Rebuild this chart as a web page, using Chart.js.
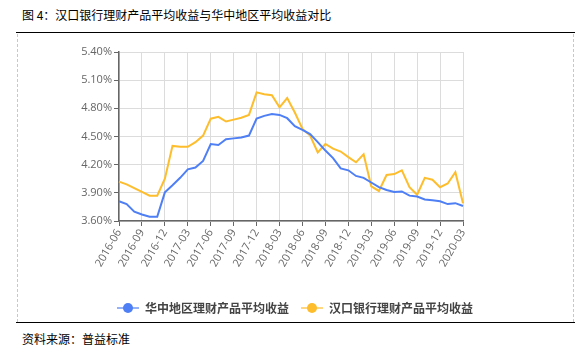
<!DOCTYPE html>
<html>
<head>
<meta charset="utf-8">
<script src="https://cdn.jsdelivr.net/npm/chart.js@4.4.1/dist/chart.umd.min.js"></script>
<style>
  body { margin: 0; background: #fff; width: 586px; height: 352px; position: relative; overflow: hidden;
         font-family: "Noto Sans CJK SC", sans-serif; }
  #title { position: absolute; left: 22px; top: 6px; font-size: 12px; color: #000; }
  #topline { position: absolute; left: 16px; top: 32px; width: 559px; height: 0; border-top: 1.5px solid #000; }
  #leftdash { position: absolute; left: 17px; top: 34px; height: 288px; border-left: 1px dashed #c8c8c8; }
  #rightdash { position: absolute; left: 573px; top: 34px; height: 288px; border-left: 1px dashed #c8c8c8; }
  #bottomline { position: absolute; left: 16px; top: 322px; width: 559px; height: 0; border-top: 1.5px solid #000; }
  #source { position: absolute; left: 22px; top: 330px; font-size: 12px; color: #000; }
  #wrap { position: absolute; left: 18px; top: 35px; width: 554px; height: 292px; }
</style>
</head>
<body>
<div id="title">图 4：汉口银行理财产品平均收益与华中地区平均收益对比</div>
<div id="topline"></div>
<div id="leftdash"></div>
<div id="rightdash"></div>
<div id="wrap"><canvas id="yieldChart"></canvas></div>
<div id="bottomline"></div>
<div id="source">资料来源：普益标准</div>
<script>
// 月份
const months = [
  '2016-06', '2016-07', '2016-08', '2016-09', '2016-10', '2016-11', '2016-12',
  '2017-01', '2017-02', '2017-03', '2017-04', '2017-05', '2017-06', '2017-07', '2017-08', '2017-09', '2017-10', '2017-11', '2017-12',
  '2018-01', '2018-02', '2018-03', '2018-04', '2018-05', '2018-06', '2018-07', '2018-08', '2018-09', '2018-10', '2018-11', '2018-12',
  '2019-01', '2019-02', '2019-03', '2019-04', '2019-05', '2019-06', '2019-07', '2019-08', '2019-09', '2019-10', '2019-11', '2019-12',
  '2020-01', '2020-02', '2020-03'
];

// 华中地区理财产品平均收益 (%)
const centralChina = [
  3.81, 3.78, 3.70, 3.67, 3.645, 3.645, 3.905,
  3.98, 4.06, 4.15, 4.17, 4.24, 4.42, 4.41, 4.47, 4.48, 4.49, 4.51, 4.69,
  4.72, 4.74, 4.73, 4.695, 4.61, 4.57, 4.525, 4.44, 4.35, 4.27, 4.16, 4.14,
  4.08, 4.06, 4.01, 3.96, 3.93, 3.91, 3.915, 3.87, 3.86, 3.83, 3.82, 3.81,
  3.78, 3.79, 3.76
];

// 汉口银行理财产品平均收益 (%)
const hankouBank = [
  4.02, 3.99, 3.95, 3.91, 3.87, 3.87, 4.05,
  4.40, 4.39, 4.39, 4.44, 4.51, 4.69, 4.71, 4.66, 4.68, 4.70, 4.73, 4.97,
  4.95, 4.94, 4.81, 4.91, 4.755, 4.58, 4.51, 4.33, 4.42, 4.37, 4.34, 4.28,
  4.225, 4.31, 3.97, 3.92, 4.09, 4.10, 4.14, 3.96, 3.88, 4.06, 4.04, 3.96,
  4.00, 4.12, 3.79
];

const yTicks = [3.6, 3.9, 4.2, 4.5, 4.8, 5.1, 5.4];

const BLUE = '#4e7ff5';
const YELLOW = '#fdbd2c';

// 图例标记：线 + 圆点
function legendMarker(color) {
  const c = document.createElement('canvas');
  c.width = 22; c.height = 12;
  const g = c.getContext('2d');
  g.strokeStyle = color;
  g.globalAlpha = 0.6;
  g.lineWidth = 2;
  g.beginPath(); g.moveTo(0, 6); g.lineTo(22, 6); g.stroke();
  g.globalAlpha = 1;
  g.fillStyle = color;
  g.beginPath(); g.arc(11, 6, 5, 0, Math.PI * 2); g.fill();
  return c;
}

const ctx = document.getElementById('yieldChart').getContext('2d');
new Chart(ctx, {
  type: 'line',
  data: {
    labels: months,
    datasets: [{
      label: '华中地区理财产品平均收益',
      data: centralChina,
      borderColor: BLUE,
      backgroundColor: BLUE,
      borderWidth: 2,
      pointRadius: 0,
      tension: 0,
      pointStyle: legendMarker(BLUE)
    }, {
      label: '汉口银行理财产品平均收益',
      data: hankouBank,
      borderColor: YELLOW,
      backgroundColor: YELLOW,
      borderWidth: 2,
      pointRadius: 0,
      tension: 0,
      pointStyle: legendMarker(YELLOW)
    }]
  },
  options: {
    responsive: true,
    maintainAspectRatio: false,
    animation: false,
    layout: { padding: { top: 17, right: 0, bottom: 3, left: 0 } },
    plugins: {
      tooltip: { enabled: false },
      legend: {
        position: 'bottom',
        labels: {
          usePointStyle: true,
          pointStyleWidth: 22,
          padding: 12,
          color: '#444',
          font: { family: '"Noto Sans CJK SC"', size: 12, weight: 'bold' }
        }
      }
    },
    scales: {
      x: {
        afterFit: s => { s.height = 69; },
        border: { color: '#666', width: 1.5 },
        grid: {
          color: c => (c.index % 3 === 0 ? '#dcdcdc' : 'transparent'),
          borderDash: [4, 4],
          tickLength: 5,
          tickColor: c => (c.index % 3 === 0 ? '#666' : 'transparent'),
          tickBorderDash: []
        },
        ticks: {
          autoSkip: false,
          minRotation: 60,
          maxRotation: 60,
          padding: 1,
          color: '#666',
          font: { family: '"Open Sans"', size: 11 },
          callback: function (v, i) { return i % 3 === 0 ? months[i] : ''; }
        }
      },
      y: {
        min: 3.6,
        max: 5.4,
        afterFit: s => { s.width = 101; },
        afterBuildTicks: s => { s.ticks = yTicks.map(v => ({ value: v })); },
        border: { color: '#666', width: 1.5 },
        grid: {
          color: '#dcdcdc',
          borderDash: [4, 4],
          tickLength: 5,
          tickColor: '#666',
          tickBorderDash: []
        },
        ticks: {
          padding: 2,
          color: '#666',
          font: { family: '"Open Sans"', size: 11 },
          callback: v => v.toFixed(2) + '%'
        }
      },
      // 右侧留白
      yRight: {
        position: 'right',
        min: 0,
        max: 1,
        afterFit: s => { s.width = 109; },
        border: { display: false },
        grid: { display: false },
        ticks: { display: false }
      }
    }
  }
});
</script>
</body>
</html>
